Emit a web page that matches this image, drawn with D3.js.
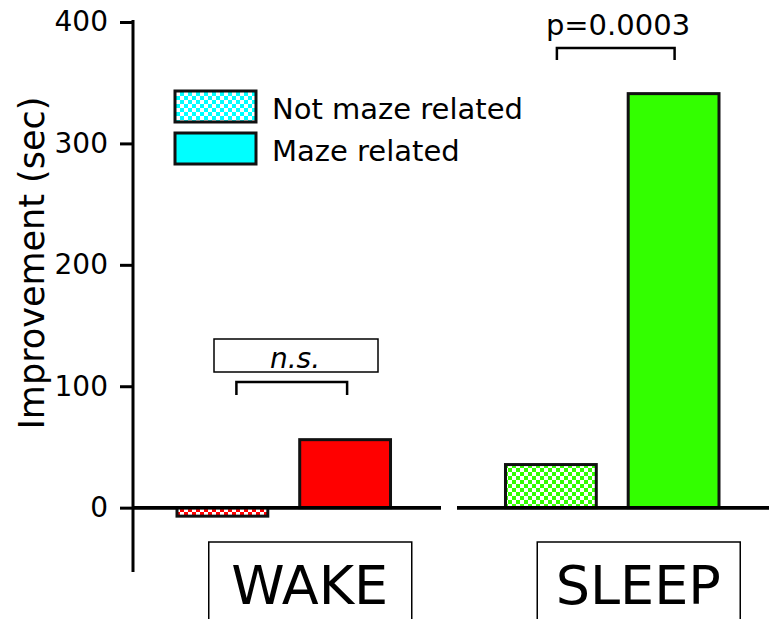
<!DOCTYPE html>
<html>
<head>
<meta charset="utf-8">
<script src="https://cdn.jsdelivr.net/npm/d3@7"></script>
<style>
  body { margin: 0; background: #fff; }
  svg { display: block; }
  text { font-family: "DejaVu Sans", Verdana, sans-serif; fill: #000; }
</style>
</head>
<body>
<div id="chart"></div>
<script>
// data
const conditions = ["WAKE", "SLEEP"];
const kinds = ["Not maze related", "Maze related"];
const values = [[-7, 56], [35.5, 341]];   // [condition][kind]
const barColors = ["#ff0000", "#33ff00"];
const legendColor = "#00ffff";
const yTicks = [0, 100, 200, 300, 400];
const yDomain = [-53, 400];
const yLabel = "Improvement (sec)";
const sigLabels = ["n.s.", "p=0.0003"];

const W = 769, H = 619;
const svg = d3.select("#chart").append("svg").attr("width", W).attr("height", H);

const y = d3.scaleLinear().domain(yDomain).range([572, 22]);
const xGroup = d3.scaleBand().domain(conditions).range([177, 719]).paddingInner(0.35);
const xInner = d3.scaleBand().domain(kinds).range([0, xGroup.bandwidth()]).paddingInner(0.26);

// checker patterns
const defs = svg.append("defs");
function checker(id, color) {
  const p = defs.append("pattern").attr("id", id).attr("patternUnits", "userSpaceOnUse")
    .attr("width", 8).attr("height", 8);
  p.append("rect").attr("width", 8).attr("height", 8).attr("fill", "#fff");
  p.append("rect").attr("width", 4).attr("height", 4).attr("fill", color);
  p.append("rect").attr("x", 4).attr("y", 4).attr("width", 4).attr("height", 4).attr("fill", color);
}
checker("chk-red", barColors[0]);
checker("chk-green", barColors[1]);
checker("chk-cyan", legendColor);

// y axis
const yAxis = d3.axisLeft(y).tickValues(yTicks).tickSize(13).tickPadding(12);
const ga = svg.append("g").attr("transform", "translate(133,0)").call(yAxis);
ga.select(".domain").attr("d", `M0,${y(400) - 2}V${y(yDomain[0])}`).attr("stroke-width", 3);
ga.selectAll(".tick line").attr("stroke-width", 3);
ga.selectAll(".tick text").attr("font-size", 28).attr("font-family", "DejaVu Sans, sans-serif").attr("fill", "#000");

svg.append("text")
  .attr("transform", `translate(44,${263}) rotate(-90)`)
  .attr("text-anchor", "middle")
  .attr("font-size", 35)
  .text(yLabel);

// baselines (split between groups)
const baseSegs = [[133, 441], [457, 769]];
function baselines() {
  svg.append("g").selectAll("line").data(baseSegs).join("line")
    .attr("x1", d => d[0]).attr("x2", d => d[1])
    .attr("y1", y(0)).attr("y2", y(0))
    .attr("stroke", "#000").attr("stroke-width", 3.5);
}
baselines();

// bars
conditions.forEach((c, ci) => {
  kinds.forEach((k, ki) => {
    const v = values[ci][ki];
    const fill = ki === 0 ? `url(#chk-${ci === 0 ? "red" : "green"})` : barColors[ci];
    svg.append("rect")
      .attr("x", xGroup(c) + xInner(k))
      .attr("y", y(Math.max(0, v)))
      .attr("width", xInner.bandwidth())
      .attr("height", Math.abs(y(v) - y(0)))
      .attr("fill", fill)
      .attr("stroke", "#111").attr("stroke-width", 3);
  });
});
baselines(); // on top of the bar outlines

// category boxes
conditions.forEach((c, ci) => {
  const cx = xGroup(c) + xGroup.bandwidth() / 2 + 26;
  svg.append("rect")
    .attr("x", cx - 101).attr("y", 542).attr("width", 203).attr("height", 100)
    .attr("fill", "#fff").attr("stroke", "#000").attr("stroke-width", 1.5);
  svg.append("text")
    .attr("x", cx).attr("y", 604)
    .attr("text-anchor", "middle")
    .attr("font-family", "Liberation Sans, Arial, sans-serif")
    .attr("font-size", 54)
    .text(c);
});

// significance brackets
function bracket(x1, x2, top, legs) {
  svg.append("path")
    .attr("d", `M${x1},${top + legs}V${top}H${x2}V${top + legs}`)
    .attr("fill", "none").attr("stroke", "#000").attr("stroke-width", 2.5);
}
{
  const a = xGroup("WAKE") + xInner(kinds[0]) + xInner.bandwidth() / 2 + 14;
  const b = xGroup("WAKE") + xInner(kinds[1]) + xInner.bandwidth() / 2 + 2;
  bracket(a, b, 382, 13);
  svg.append("rect").attr("x", 214).attr("y", 339).attr("width", 164).attr("height", 33)
    .attr("fill", "#fff").attr("stroke", "#000").attr("stroke-width", 1.5);
  svg.append("text").attr("x", 295).attr("y", 368).attr("text-anchor", "middle")
    .attr("font-size", 28).attr("font-style", "italic").text(sigLabels[0]);
}
{
  const a = xGroup("SLEEP") + xInner(kinds[0]) + xInner.bandwidth() / 2 + 6;
  const b = xGroup("SLEEP") + xInner(kinds[1]) + xInner.bandwidth() / 2 + 1;
  bracket(a, b, 48, 12);
  svg.append("text").attr("x", 618).attr("y", 35).attr("text-anchor", "middle")
    .attr("font-size", 29).text(sigLabels[1]);
}

// legend
const legFills = ["url(#chk-cyan)", legendColor];
kinds.forEach((k, i) => {
  const ly = 91 + i * 42;
  svg.append("rect").attr("x", 175).attr("y", ly).attr("width", 81).attr("height", 31)
    .attr("fill", legFills[i]).attr("stroke", "#111").attr("stroke-width", 3);
  svg.append("text").attr("x", 272).attr("y", ly + 28).attr("font-size", 29).text(k);
});
</script>
</body>
</html>
